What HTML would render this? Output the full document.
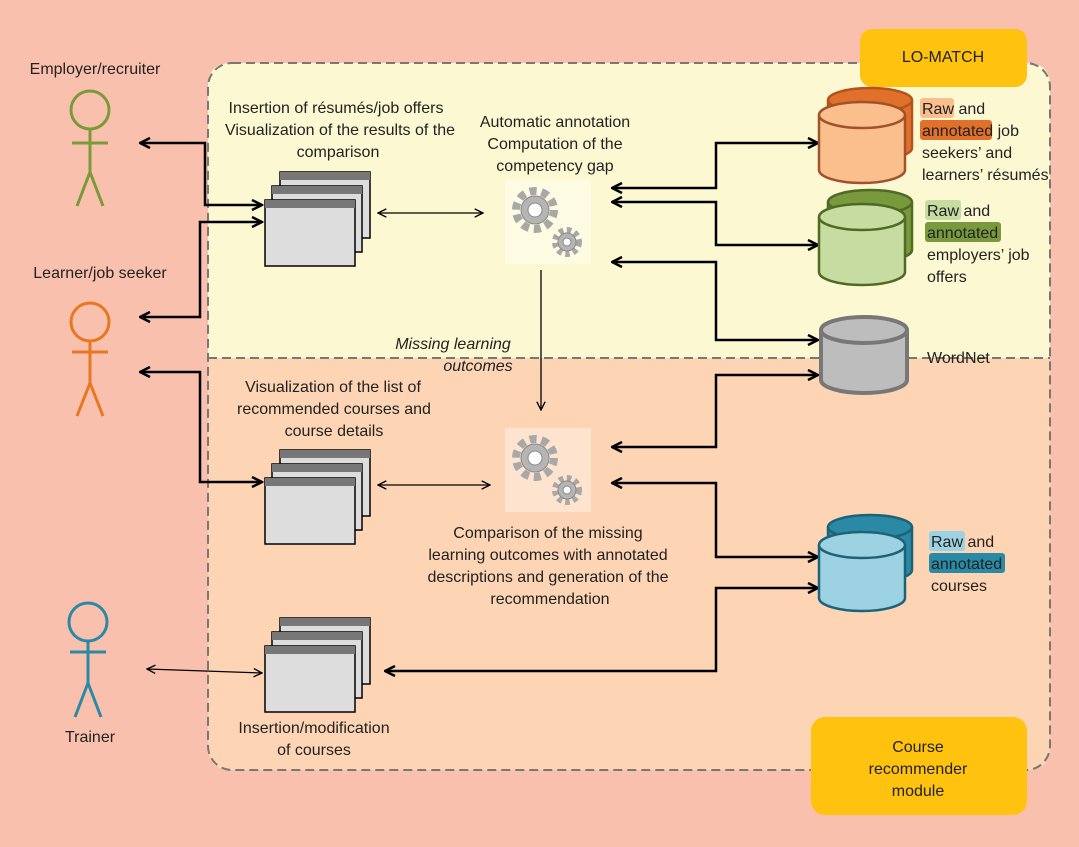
<!DOCTYPE html>
<html><head><meta charset="utf-8"><style>
html,body{margin:0;padding:0;background:#f9c1ad;}
svg{display:block;font-family:"Liberation Sans Narrow","Liberation Sans",sans-serif;}
text{font-size:16px;fill:#222;}
</style></head><body>
<svg width="1079" height="847" viewBox="0 0 1079 847" xmlns="http://www.w3.org/2000/svg">
<defs>
<marker id="a" viewBox="0 0 10 10" refX="9" refY="5" markerWidth="5" markerHeight="5" orient="auto-start-reverse"><path d="M1,1 L9,5 L1,9" fill="none" stroke="#000" stroke-width="2"/></marker>
<marker id="b" viewBox="0 0 10 10" refX="9" refY="5" markerWidth="8" markerHeight="8" orient="auto-start-reverse"><path d="M1,1 L9,5 L1,9" fill="none" stroke="#000" stroke-width="1.3"/></marker>
<g id="win">
<rect x="15" y="0" width="90" height="66" fill="#ddd" stroke="#000" stroke-width="1.5"/><rect x="15" y="0" width="90" height="8" fill="#777"/>
<rect x="7" y="14" width="90" height="66" fill="#ddd" stroke="#000" stroke-width="1.5"/><rect x="7" y="14" width="90" height="8" fill="#777"/>
<rect x="0" y="28" width="90" height="66" fill="#ddd" stroke="#000" stroke-width="1.5"/><rect x="0" y="28" width="90" height="8" fill="#777"/>
</g>
<g id="gear">
<rect x="0" y="0" width="86" height="84" fill="#fff" opacity="0.35"/>
<circle cx="30" cy="30" r="19" fill="none" stroke="#a8a8a8" stroke-width="8" stroke-dasharray="7 5"/>
<circle cx="30" cy="30" r="14" fill="#b5b5b5" stroke="#888"/><circle cx="30" cy="30" r="7" fill="#fff" stroke="#888"/>
<circle cx="62" cy="62" r="12" fill="none" stroke="#a8a8a8" stroke-width="6" stroke-dasharray="4.5 3.5"/>
<circle cx="62" cy="62" r="9" fill="#b5b5b5" stroke="#888"/><circle cx="62" cy="62" r="4" fill="#fff" stroke="#888"/>
</g>
</defs>
<!-- module -->
<path d="M232,63 H1027 Q1050,63 1050,86 V358 H208 V86 Q208,63 232,63Z" fill="#fcf9d2"/>
<path d="M208,358 H1050 V747 Q1050,770 1027,770 H232 Q208,770 208,747Z" fill="#fdd5b5"/>
<rect x="208" y="63" width="842" height="707" rx="24" fill="none" stroke="#777" stroke-width="2" stroke-dasharray="9 5"/>
<line x1="208" y1="358" x2="1050" y2="358" stroke="#777" stroke-width="2" stroke-dasharray="9 5"/>
<rect x="210" y="340" width="360" height="17" fill="#fcf9d2"/>
<rect x="860" y="29" width="167" height="58" rx="12" fill="#ffc20e"/>
<text x="943" y="62" text-anchor="middle">LO-MATCH</text>
<rect x="811" y="717" width="216" height="98" rx="14" fill="#ffc20e"/>
<text x="918" y="752" text-anchor="middle">Course</text><text x="918" y="774" text-anchor="middle">recommender</text><text x="918" y="796" text-anchor="middle">module</text>
<!-- actors -->
<g fill="none" stroke-width="3">
<g stroke="#7a9a3a"><circle cx="90" cy="110" r="19"/><path d="M90,129 V172 M72,143 H108 M90,172 L77,206 M90,172 L103,206"/></g>
<g stroke="#e87722"><circle cx="90" cy="322" r="19"/><path d="M90,341 V383 M72,352 H108 M90,383 L77,416 M90,383 L103,416"/></g>
<g stroke="#2a8aa5"><circle cx="88" cy="622" r="19"/><path d="M88,641 V683 M70,652 H106 M88,683 L75,717 M88,683 L101,717"/></g>
</g>
<text x="95" y="74" text-anchor="middle">Employer/recruiter</text>
<text x="100" y="278" text-anchor="middle">Learner/job seeker</text>
<text x="90" y="742" text-anchor="middle">Trainer</text>
<!-- windows & gears -->
<use href="#win" x="265" y="172"/><use href="#win" x="265" y="450"/><use href="#win" x="265" y="618"/>
<use href="#gear" x="505" y="180"/><use href="#gear" x="505" y="428"/>
<!-- connectors -->
<g fill="none" stroke="#000" stroke-width="2.5">
<path d="M140,143 H205 V205 H262" marker-start="url(#a)" marker-end="url(#a)"/>
<path d="M140,317 H200 V222 H262" marker-start="url(#a)" marker-end="url(#a)"/>
<path d="M140,372 H200 V482 H262" marker-start="url(#a)" marker-end="url(#a)"/>
<path d="M612,188 H716 V143 H818" marker-start="url(#a)" marker-end="url(#a)"/>
<path d="M612,202 H716 V245 H818" marker-start="url(#a)" marker-end="url(#a)"/>
<path d="M612,262 H716 V340 H818" marker-start="url(#a)" marker-end="url(#a)"/>
<path d="M612,447 H716 V375 H818" marker-start="url(#a)" marker-end="url(#a)"/>
<path d="M612,483 H716 V557 H818" marker-start="url(#a)" marker-end="url(#a)"/>
<path d="M385,671 H716 V588 H818" marker-start="url(#a)" marker-end="url(#a)"/>
</g>
<g fill="none" stroke="#000" stroke-width="1.3">
<path d="M378,213 H483" marker-start="url(#b)" marker-end="url(#b)"/>
<path d="M378,485 H490" marker-start="url(#b)" marker-end="url(#b)"/>
<path d="M147,669 L262,673" marker-start="url(#b)" marker-end="url(#b)"/>
<path d="M541,270 V410" marker-end="url(#b)"/>
</g>
<!-- cylinders -->
<g stroke-width="2.5">
<path d="M828,100 V148 A42,12 0 0 0 912,148 V100" fill="#e0702a" stroke="#b05520"/><ellipse cx="870" cy="100" rx="42" ry="12" fill="#e0702a" stroke="#b05520"/>
<path d="M819,115 V170 A43,13 0 0 0 905,170 V115" fill="#fbbf8e" stroke="#a0522d"/><ellipse cx="862" cy="115" rx="43" ry="13" fill="#fbbf8e" stroke="#a0522d"/>
<path d="M828,202 V250 A42,12 0 0 0 912,250 V202" fill="#789a3c" stroke="#4f6a25"/><ellipse cx="870" cy="202" rx="42" ry="12" fill="#789a3c" stroke="#4f6a25"/>
<path d="M819,217 V272 A43,13 0 0 0 905,272 V217" fill="#c6dca0" stroke="#4f6a25"/><ellipse cx="862" cy="217" rx="43" ry="13" fill="#c6dca0" stroke="#4f6a25"/>
<path d="M821,330 V380 A43,13 0 0 0 907,380 V330" fill="#bdbdbd" stroke="#777" stroke-width="4"/><ellipse cx="864" cy="330" rx="43" ry="13" fill="#bdbdbd" stroke="#777" stroke-width="4"/>
<path d="M828,527 V570 A42,12 0 0 0 912,570 V527" fill="#2a8aa5" stroke="#1d6378"/><ellipse cx="870" cy="527" rx="42" ry="12" fill="#2a8aa5" stroke="#1d6378"/>
<path d="M819,545 V598 A43,13 0 0 0 905,598 V545" fill="#9dd2e2" stroke="#1d6378"/><ellipse cx="862" cy="545" rx="43" ry="13" fill="#9dd2e2" stroke="#1d6378"/>
</g>
<!-- DB labels -->
<rect x="920" y="98" width="34" height="20" rx="3" fill="#fbbf8e"/>
<rect x="920" y="120" width="72" height="20" rx="3" fill="#e0702a"/>
<text x="922" y="114">Raw and</text><text x="922" y="136">annotated job</text><text x="922" y="158">seekers’ and</text><text x="922" y="180">learners’ résumés</text>
<rect x="925" y="200" width="36" height="20" rx="3" fill="#c6dca0"/>
<rect x="925" y="222" width="76" height="20" rx="3" fill="#789a3c"/>
<text x="927" y="216">Raw and</text><text x="927" y="238">annotated</text><text x="927" y="260">employers’ job</text><text x="927" y="282">offers</text>
<text x="927" y="363">WordNet</text>
<rect x="929" y="531" width="36" height="20" rx="3" fill="#9dd2e2"/>
<rect x="929" y="553" width="76" height="20" rx="3" fill="#2a8aa5"/>
<text x="931" y="547">Raw and</text><text x="931" y="569">annotated</text><text x="931" y="591">courses</text>
<!-- process labels -->
<g text-anchor="middle">
<text x="336" y="113">Insertion of résumés/job offers</text><text x="340" y="135">Visualization of the results of the</text><text x="338" y="157">comparison</text>
<text x="555" y="127">Automatic annotation</text><text x="555" y="149">Computation of the</text><text x="555" y="171">competency gap</text>
<text x="453" y="349" font-style="italic">Missing learning</text><text x="478" y="371" font-style="italic">outcomes</text>
<text x="333" y="392">Visualization of the list of</text><text x="334" y="414">recommended courses and</text><text x="334" y="436">course details</text>
<text x="548" y="538">Comparison of the missing</text><text x="548" y="560">learning outcomes with annotated</text><text x="548" y="582">descriptions and generation of the</text><text x="550" y="604">recommendation</text>
<text x="314" y="733">Insertion/modification</text><text x="314" y="755">of courses</text>
</g>
</svg>
</body></html>
